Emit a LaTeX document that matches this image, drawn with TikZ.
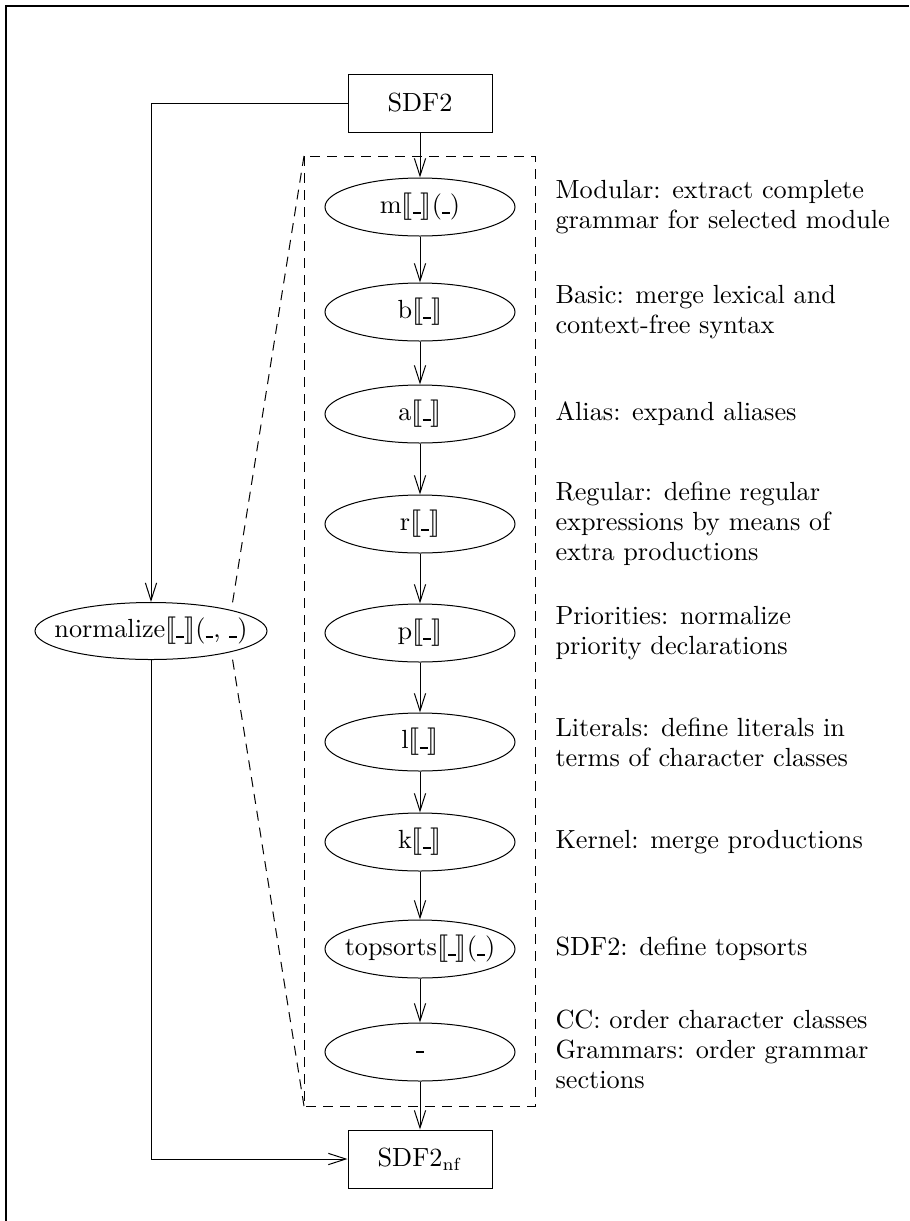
\documentclass[tikz,border=0pt]{standalone}
\usepackage{stmaryrd}
\usetikzlibrary{arrows.meta,calc,shapes.geometric}
% argument placeholder and semantic brackets
\newcommand\hole{\rule{0.3em}{0.08em}}
\newcommand\sembr[1]{$\llbracket$#1$\rrbracket$}
\begin{document}
\begin{tikzpicture}[x=0.4pt,y=-0.4pt,
  font=\fontsize{10.5}{12}\selectfont,
  op/.style={draw, ellipse, line width=0.4pt, minimum width=76pt, minimum height=23.2pt,
             inner xsep=-6pt, inner ysep=0pt},
  box/.style={draw, rectangle, line width=0.4pt, minimum width=57.6pt, minimum height=23.2pt},
  note/.style={anchor=west, align=left, inner sep=0pt},
  flow/.style={line width=0.4pt, -{Straight Barb[length=7pt,width=4.5pt]}},
  stage/.style={line width=0.4pt, dash pattern=on 4pt off 2.8pt},
]
\useasboundingbox (0,0) rectangle (909,1221);
% page frame
\draw[line width=0.8pt] (6.3,1221) -- (6.3,6.3) -- (909,6.3);

% input and output
\node[box] (sdf) at (420,103) {SDF2};
\node[box] (nf)  at (420,1159) {SDF2$_{\mathrm{nf}}$};

% normalization as a whole
\node[op, minimum width=92.8pt, minimum height=22.8pt] (norm) at (151,631)
  {normalize\sembr{\hole}(\hole, \hole)};

% individual normalization steps
\node[op] (m) at (420,207)  {m\sembr{\hole}(\hole)};
\node[op] (b) at (420,312)  {b\sembr{\hole}};
\node[op] (a) at (420,414)  {a\sembr{\hole}};
\node[op] (r) at (420,524)  {r\sembr{\hole}};
\node[op] (p) at (420,633)  {p\sembr{\hole}};
\node[op] (l) at (420,742)  {l\sembr{\hole}};
\node[op] (k) at (420,842)  {k\sembr{\hole}};
\node[op] (t) at (420,949)  {topsorts\sembr{\hole}(\hole)};
\node[op] (z) at (420,1052) {\hole};

% descriptions
\node[note] (dm) at (555,207)  {Modular: extract complete\\grammar for selected module};
\node[note] (db) at (555,312)  {Basic: merge lexical and\\context-free syntax};
\node[note] (da) at (555,414)  {Alias: expand aliases};
\node[note] (dr) at (555,524)  {Regular: define regular\\expressions by means of\\extra productions};
\node[note] (dp) at (555,633)  {Priorities: normalize\\priority declarations};
\node[note] (dl) at (555,742)  {Literals: define literals in\\terms of character classes};
\node[note] (dk) at (555,842)  {Kernel: merge productions};
\node[note] (dt) at (555,949)  {SDF2: define topsorts};
\node[note] (dz) at (555,1049) {CC: order character classes\\Grammars: order grammar\\sections};

% chain of steps
\draw[flow] (sdf.south) -- (m.north);
\draw[flow] (m) -- (b);
\draw[flow] (b) -- (a);
\draw[flow] (a) -- (r);
\draw[flow] (r) -- (p);
\draw[flow] (p) -- (l);
\draw[flow] (l) -- (k);
\draw[flow] (k) -- (t);
\draw[flow] (t) -- (z);
\draw[flow] (z.south) -- (nf.north);

% direct route
\draw[flow] (sdf.west) -| (norm.north);
\draw[flow] (norm.south) |- (nf.west);

% expansion of normalize into its steps
\coordinate (snw) at (304,156);
\coordinate (sse) at (535,1106);
\coordinate (ssw) at (304,1106);
\draw[stage] (snw) rectangle (sse);
\coordinate (aim) at (228,631);
\draw[stage] (snw) -- ($(snw)!0.952!(aim)$);
\draw[stage] (ssw) -- ($(ssw)!0.947!(aim)$);
\end{tikzpicture}
\end{document}
